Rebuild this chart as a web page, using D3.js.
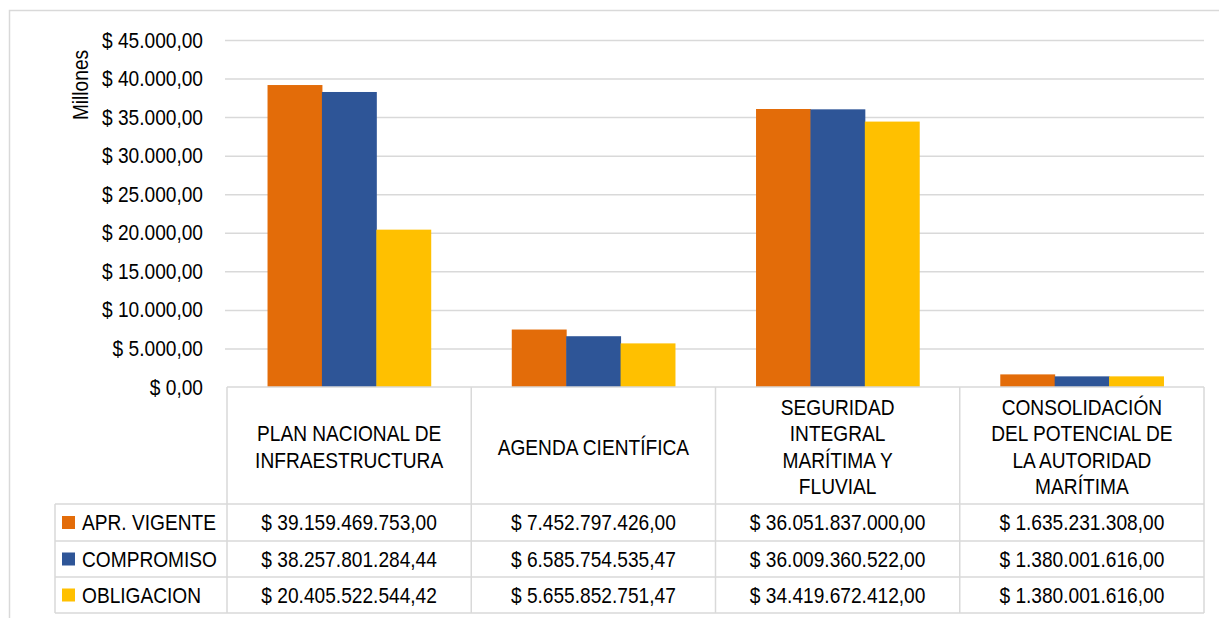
<!DOCTYPE html>
<html>
<head>
<meta charset="utf-8">
<script src="https://cdn.jsdelivr.net/npm/d3@7"></script>
<style>
  html, body { margin: 0; padding: 0; background: #fff; }
  svg { display: block; }
  text { font-family: "Liberation Sans", Arial, sans-serif; fill: #000; }
</style>
</head>
<body>
<svg id="chart" width="1219" height="618"></svg>
<script>
// Budget lines (category labels, line breaks marked with \n)
const categories = [
  "PLAN NACIONAL DE\nINFRAESTRUCTURA",
  "AGENDA CIENTÍFICA",
  "SEGURIDAD\nINTEGRAL\nMARÍTIMA Y\nFLUVIAL",
  "CONSOLIDACIÓN\nDEL POTENCIAL DE\nLA AUTORIDAD\nMARÍTIMA"
];
const seriesNames = ["APR. VIGENTE", "COMPROMISO", "OBLIGACION"];
const seriesColors = ["#E36C09", "#2E5597", "#FFC000"];

// Amounts in pesos, one array per series, in category order
const aprVigente  = [39159469753.00, 7452797426.00, 36051837000.00, 1635231308.00];
const compromiso  = [38257801284.44, 6585754535.47, 36009360522.00, 1380001616.00];
const obligacion  = [20405522544.42, 5655852751.47, 34419672412.00, 1380001616.00];
const seriesValues = [aprVigente, compromiso, obligacion];

// Y axis ticks (millions of pesos)
const yTicks = [0, 5000, 10000, 15000, 20000, 25000, 30000, 35000, 40000, 45000];
const yTitle = "Millones";

const locale = d3.formatLocale({ decimal: ",", thousands: ".", grouping: [3], currency: ["$ ", ""] });
const money = locale.format("$,.2f");

const svg = d3.select("#chart");
const grid = "#d9d9d9";
const fontSize = 22;
const squeeze = 0.87;   // narrow type: horizontal compression of the glyphs

// text helper: places a horizontally condensed label at (x, y)
function label(parent, x, y, str, anchor) {
  return parent.append("text")
    .attr("transform", `translate(${x},${y}) scale(${squeeze},1)`)
    .attr("dy", "0.35em")
    .attr("text-anchor", anchor || "start")
    .attr("font-size", fontSize)
    .text(str);
}

// outer frame
svg.append("rect").attr("x", 9.5).attr("y", 10.5).attr("width", 1230).attr("height", 640)
  .attr("fill", "none").attr("stroke", grid).attr("stroke-width", 1.5);

const plotLeft = 225, tableLeft = 227, tableRight = 1204, legendLeft = 55;
const y = d3.scaleLinear().domain([0, 45000]).range([387, 40]);
const x0 = d3.scaleBand().domain(d3.range(categories.length)).range([tableLeft, tableRight]);
const x1 = d3.scaleBand().domain(d3.range(seriesNames.length)).range([0, x0.bandwidth()])
  .paddingInner(0).paddingOuter(0.745);

// gridlines and tick labels
const yAxis = d3.axisLeft(y).tickValues(yTicks).tickSize(0).tickPadding(0).tickFormat(money);
const ya = svg.append("g").attr("transform", `translate(${plotLeft},0)`).call(yAxis);
ya.select(".domain").remove();
ya.selectAll(".tick text")
  .attr("x", -22 / squeeze)
  .attr("transform", `scale(${squeeze},1)`)
  .attr("font-size", fontSize)
  .attr("font-family", null).attr("fill", "#000");
ya.selectAll(".tick").filter(d => d > 0).append("line")
  .attr("x1", 0).attr("x2", tableRight - plotLeft).attr("stroke", grid).attr("stroke-width", 1.5);

svg.append("text")
  .attr("transform", `translate(80,85) rotate(-90) scale(${squeeze},1)`)
  .attr("dy", "0.35em")
  .attr("text-anchor", "middle").attr("font-size", fontSize).text(yTitle);

// bars
const groups = svg.append("g").selectAll("g").data(categories).join("g")
  .attr("transform", (d, i) => `translate(${x0(i)},0)`);
groups.selectAll("rect")
  .data((d, i) => seriesValues.map((vals, s) => ({ s, v: vals[i] / 1e6 })))
  .join("rect")
  .attr("x", d => x1(d.s))
  .attr("width", x1.bandwidth() + 0.5)
  .attr("y", d => y(d.v))
  .attr("height", d => y(0) - y(d.v))
  .attr("fill", d => seriesColors[d.s]);

// data table
const headerTop = y(0), headerBottom = 504;
const rowEdges = [504, 541, 577, 613];
const tbl = svg.append("g").attr("stroke", grid).attr("stroke-width", 1.5);
tbl.append("line").attr("x1", tableLeft).attr("x2", tableRight).attr("y1", headerTop).attr("y2", headerTop);
rowEdges.forEach(r => tbl.append("line").attr("x1", legendLeft).attr("x2", tableRight).attr("y1", r).attr("y2", r));
tbl.append("line").attr("x1", legendLeft).attr("x2", legendLeft).attr("y1", rowEdges[0]).attr("y2", rowEdges[3]);
d3.range(categories.length + 1).forEach(i => {
  const xx = i < categories.length ? x0(i) : tableRight;
  tbl.append("line").attr("x1", xx).attr("x2", xx).attr("y1", headerTop).attr("y2", rowEdges[3]);
});

// category headers
const lineH = 26.5;
const heads = svg.append("g");
categories.forEach((d, i) => {
  const lines = d.split("\n");
  const cy = (headerTop + headerBottom) / 2 + 1.5;
  lines.forEach((ln, k) => {
    label(heads, x0(i) + x0.bandwidth() / 2, cy + (k - (lines.length - 1) / 2) * lineH, ln, "middle");
  });
});

// rows: legend key + values
const rows = svg.append("g");
seriesNames.forEach((name, s) => {
  const top = rowEdges[s], bot = rowEdges[s + 1], cy = (top + bot) / 2;
  rows.append("rect").attr("x", 62).attr("y", cy - 6.5).attr("width", 13).attr("height", 13)
    .attr("fill", seriesColors[s]);
  label(rows, 82, cy, name, "start");
  seriesValues[s].forEach((v, i) => {
    label(rows, x0(i) + x0.bandwidth() / 2, cy, money(v), "middle");
  });
});
</script>
</body>
</html>
